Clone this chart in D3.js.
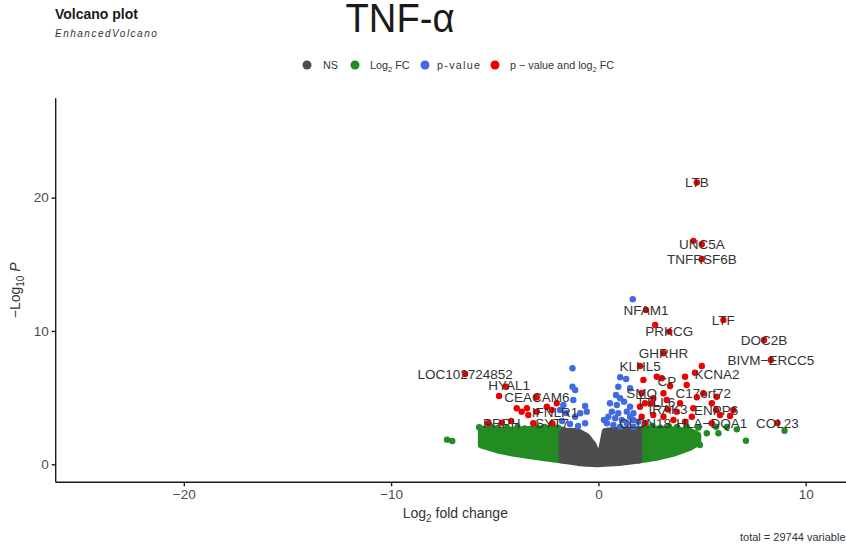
<!DOCTYPE html>
<html>
<head>
<meta charset="utf-8">
<script src="https://cdn.jsdelivr.net/npm/d3@7"></script>
<style>
  html, body { margin: 0; padding: 0; background: #ffffff; }
  svg { display: block; font-family: "Liberation Sans", Arial, sans-serif; }
</style>
</head>
<body>
<svg id="chart" width="846" height="546"></svg>
<script>
// ---- axis limits and ticks ----
const xLimits = [-26.18, 12.38];
const yLimits = [-1.35, 27.45];
const xTicks = [-20, -10, 0, 10];
const yTicks = [0, 10, 20];

// ---- dense clouds: centres of the outermost points (log2FC, upper -log10P, lower -log10P) ----
const nsCloudFc   = [-1.76, -1.00, -0.56, -0.24, -0.08, 0.00, 0.16, 0.32, 1.00, 1.96];
const nsCloudHigh = [ 2.50,  2.48,  2.10,  1.47,  0.85, 0.47, 1.22, 2.48, 2.60, 2.60];
const nsCloudLow  = [ 0.30,  0.12,  0.06,  0.03,  0.02, 0.02, 0.03, 0.05, 0.12, 0.30];

const fcDownCloudFc   = [-5.66, -4.86, -4.06, -3.26, -2.50, -1.76];
const fcDownCloudHigh = [ 2.65,  2.60,  2.55,  2.65,  2.70,  2.60];
const fcDownCloudLow  = [ 1.43,  1.05,  0.80,  0.62,  0.45,  0.30];

const fcUpCloudFc   = [1.96, 2.80, 3.60, 4.40, 4.81];
const fcUpCloudHigh = [2.60, 2.65, 2.60, 2.50, 2.20];
const fcUpCloudLow  = [0.30, 0.50, 0.80, 1.25, 1.60];

// ---- individual points [log2FC, -log10P] ----
const fcPoints = [
  [-7.30, 1.85], [-7.05, 1.75], [-5.75, 2.78], [-5.20, 2.85], [-4.90, 2.70], [-4.40, 2.75],
  [-3.90, 2.80], [-3.55, 2.68], [-3.00, 2.85], [-2.60, 2.80], [-2.20, 2.90], [-1.95, 2.75],
  [2.20, 2.80], [2.60, 2.90], [3.00, 2.75], [3.40, 2.85], [3.62, 2.57], [3.80, 2.80],
  [4.26, 2.82], [4.82, 2.75], [4.90, 1.45], [5.23, 2.33], [5.68, 2.82], [5.79, 2.33],
  [6.20, 2.80], [6.68, 2.62], [7.12, 1.77], [8.98, 2.52]
];

const pPoints = [
  [-1.25, 7.20], [-1.25, 5.82], [-1.12, 5.57], [-1.21, 4.82], [-0.64, 4.37], [-0.88, 3.83],
  [-0.64, 3.08], [-1.69, 4.45], [-1.85, 4.07], [-1.56, 3.85], [-1.12, 3.57], [-0.56, 3.95],
  [-1.75, 3.25], [-1.37, 3.02], [-0.98, 2.87],
  [1.66, 12.38], [1.05, 6.53], [1.34, 6.40], [0.96, 5.82], [1.53, 5.70], [0.85, 5.20],
  [1.05, 4.95], [0.89, 4.45], [1.24, 4.70], [0.65, 3.95], [0.96, 3.83], [1.37, 3.95],
  [0.48, 3.57], [0.81, 3.45], [1.13, 3.32], [1.53, 3.57], [1.69, 3.32], [0.41, 3.08],
  [0.72, 2.95], [1.05, 2.82], [1.37, 3.08], [1.69, 2.82], [1.93, 3.20], [0.27, 3.32],
  [1.53, 4.32], [1.69, 3.83], [0.56, 4.58]
];

const sigPoints = [
  [4.58, 16.76], [2.74, 10.45], [2.17, 6.33], [3.46, 5.87], [3.14, 5.33], [2.25, 4.58],
  [3.30, 4.82], [3.78, 3.95], [4.18, 6.57], [4.99, 7.37], [4.75, 5.03], [5.47, 4.58],
  [4.58, 4.20], [6.35, 3.62], [4.51, 3.57], [2.01, 4.32], [2.09, 3.57], [2.65, 3.70],
  [3.14, 3.57], [3.62, 3.32], [4.18, 3.20], [3.94, 4.58], [4.26, 5.95], [5.71, 5.07],
  [5.87, 3.70], [6.51, 4.07], [2.58, 4.58], [2.82, 6.57],
  [-4.79, 5.13], [-3.94, 4.20], [-3.45, 4.20], [-2.49, 4.32], [-3.70, 3.95], [-3.14, 3.08],
  [-5.31, 3.08], [-2.01, 4.58], [-3.38, 3.70], [-2.97, 3.95], [-4.21, 3.25]
];

// ---- labelled genes ----
const geneNames = ["LTB", "UNC5A", "TNFRSF6B", "NFAM1", "PRKCG", "LTF", "DOC2B", "GHRHR",
  "BIVM\u2212ERCC5", "KLHL5", "KCNA2", "CP", "C17orf72", "SMO", "TTLL6", "IRAK3", "ENPP6",
  "CLDN18", "HLA\u2212DQA1", "COL23", "LOC102724852", "HYAL1", "CEACAM6", "IFNLR1", "PRPH", "SYT7"];
const geneFc = [4.75, 4.99, 4.99, 2.30, 3.42, 6.03, 7.99, 3.14,
  8.32, 2.01, 4.66, 3.06, 5.06, 2.09, 2.65, 3.36, 5.68,
  2.25, 5.47, 8.64, -6.43, -4.45, -2.97, -2.25, -4.66, -2.23];
const geneP = [21.13, 16.50, 15.40, 11.58, 9.95, 10.83, 9.33, 8.33,
  7.82, 7.37, 6.87, 6.45, 5.33, 5.35, 4.95, 4.11, 4.07,
  3.10, 3.08, 3.10, 6.77, 5.82, 5.03, 4.07, 3.12, 3.08];

// ---- legend ----
const legendKeys = ["NS", "Log2 FC", "p-value", "p - value and log2 FC"];

// ---- appearance ----
const colours = { ns: "#4D4D4D", fc: "#228B22", p: "#4169E1", sig: "#EE0000" };
const pointRadius = 3.2;
// small offsets (px) where a repelled label sits off its point
const labelShift = { "KCNA2": [22, 1], "CP": [5, 3], "TTLL6": [2.5, 3.4], "HYAL1": [3, -1.7], "IFNLR1": [3.3, 1.7] };

const svg = d3.select("#chart");
const panel = { left: 55.7, right: 855, top: 98.3, bottom: 482.3 };

const x = d3.scaleLinear().domain(xLimits).range([panel.left, panel.right]);
const y = d3.scaleLinear().domain(yLimits).range([panel.bottom, panel.top]);

// ---- titles ----
svg.append("text").attr("x", 55).attr("y", 18.5)
  .attr("font-size", 14).attr("font-weight", "bold").attr("fill", "#1a1a1a")
  .text("Volcano plot");
svg.append("text").attr("x", 55).attr("y", 36.5)
  .attr("font-size", 10).attr("font-style", "italic").attr("letter-spacing", 1.5)
  .attr("fill", "#333").text("EnhancedVolcano");
svg.append("text").attr("x", 400).attr("y", 32).attr("text-anchor", "middle")
  .attr("font-size", 40).attr("fill", "#1a1a1a")
  .attr("textLength", 109).attr("lengthAdjust", "spacingAndGlyphs")
  .text("TNF-\u03B1");

// ---- legend ----
const legendItems = [
  { key: legendKeys[0], colour: colours.ns, cx: 307, tx: 323, width: null },
  { key: legendKeys[1], colour: colours.fc, cx: 355, tx: 370, width: null },
  { key: legendKeys[2], colour: colours.p, cx: 425, tx: 437, width: 43 },
  { key: legendKeys[3], colour: colours.sig, cx: 495, tx: 510, width: null }
];
const lg = svg.append("g").attr("font-size", 10.8).attr("fill", "#333");
legendItems.forEach(item => {
  lg.append("circle").attr("cx", item.cx).attr("cy", 65).attr("r", 4.5).attr("fill", item.colour);
  const t = lg.append("text").attr("x", item.tx).attr("y", 68.5);
  if (item.key === "Log2 FC") {
    t.append("tspan").text("Log");
    t.append("tspan").attr("font-size", 7.5).attr("dy", 3).text("2");
    t.append("tspan").attr("dy", -3).text(" FC");
  } else if (item.key === "p - value and log2 FC") {
    t.append("tspan").text("p \u2212 value and log");
    t.append("tspan").attr("font-size", 7.5).attr("dy", 3).text("2");
    t.append("tspan").attr("dy", -3).text(" FC");
  } else {
    t.text(item.key);
    if (item.width) t.attr("textLength", item.width).attr("lengthAdjust", "spacing");
  }
});

// ---- dense clouds ----
function cloud(fcs, highs, lows) {
  return fcs.map((f, i) => ({ fc: f, hi: highs[i], lo: lows[i] }));
}
const area = d3.area().x(d => x(d.fc)).y0(d => y(d.lo)).y1(d => y(d.hi));
const clouds = svg.append("g");
function drawCloud(data, colour) {
  clouds.append("path").datum(data).attr("d", area)
    .attr("fill", colour).attr("stroke", colour)
    .attr("stroke-width", pointRadius * 2).attr("stroke-linejoin", "round");
}
drawCloud(cloud(fcDownCloudFc, fcDownCloudHigh, fcDownCloudLow), colours.fc);
drawCloud(cloud(fcUpCloudFc, fcUpCloudHigh, fcUpCloudLow), colours.fc);

const pts = svg.append("g");
function drawPoints(data, colour) {
  pts.append("g").selectAll("circle").data(data).join("circle")
    .attr("cx", d => x(d[0])).attr("cy", d => y(d[1]))
    .attr("r", pointRadius).attr("fill", colour);
}
drawPoints(fcPoints, colours.fc);
drawCloud(cloud(nsCloudFc, nsCloudHigh, nsCloudLow), colours.ns);
drawPoints(pPoints, colours.p);
drawPoints(sigPoints, colours.sig);
const genes = geneNames.map((g, i) => ({ name: g, fc: geneFc[i], p: geneP[i] }));
drawPoints(genes.map(g => [g.fc, g.p]), colours.sig);

// ---- gene labels ----
svg.append("g").attr("font-size", 13.5).attr("fill", "#333").attr("text-anchor", "middle")
  .selectAll("text").data(genes).join("text")
  .attr("x", d => x(d.fc) + (labelShift[d.name] ? labelShift[d.name][0] : 0))
  .attr("y", d => y(d.p) + (labelShift[d.name] ? labelShift[d.name][1] : 0))
  .attr("dy", "0.36em")
  .text(d => d.name);

// ---- axes ----
const xAxis = d3.axisBottom(x).tickValues(xTicks).tickSize(4).tickPadding(3)
  .tickFormat(d => d3.format("")(d).replace("-", "\u2212"));
const yAxis = d3.axisLeft(y).tickValues(yTicks).tickSize(4).tickPadding(3);

const gx = svg.append("g").attr("transform", `translate(0,${panel.bottom})`).call(xAxis);
const gy = svg.append("g").attr("transform", `translate(${panel.left},0)`).call(yAxis);
[gx, gy].forEach(g => {
  g.select(".domain").attr("stroke", "#1a1a1a").attr("stroke-width", 1.4);
  g.selectAll(".tick line").attr("stroke", "#1a1a1a").attr("stroke-width", 1.4);
  g.selectAll(".tick text").attr("fill", "#4D4D4D").attr("font-size", 13.5)
    .attr("font-family", "'Liberation Sans', Arial, sans-serif");
});
// the x axis line runs the full panel width; the y axis line the full panel height
gx.select(".domain").attr("d", `M${panel.left},0H${panel.right}`);
gy.select(".domain").attr("d", `M0,${panel.bottom}V${panel.top}`);

// axis titles
const xt = svg.append("text").attr("x", (panel.left + panel.right) / 2).attr("y", 518)
  .attr("text-anchor", "middle").attr("font-size", 14).attr("fill", "#333");
xt.append("tspan").text("Log");
xt.append("tspan").attr("font-size", 10).attr("dy", 4).text("2");
xt.append("tspan").attr("dy", -4).text(" fold change");

const yt = svg.append("text")
  .attr("transform", `translate(20,${(panel.top + panel.bottom) / 2}) rotate(-90)`)
  .attr("text-anchor", "middle").attr("font-size", 14).attr("fill", "#333");
yt.append("tspan").text("\u2212Log");
yt.append("tspan").attr("font-size", 10).attr("dy", 4).text("10");
yt.append("tspan").attr("dy", -4).text(" ");
yt.append("tspan").attr("font-style", "italic").text("P");

// caption
svg.append("text").attr("x", 740).attr("y", 541).attr("font-size", 11).attr("fill", "#333")
  .text("total = 29744 variables");
</script>
</body>
</html>
